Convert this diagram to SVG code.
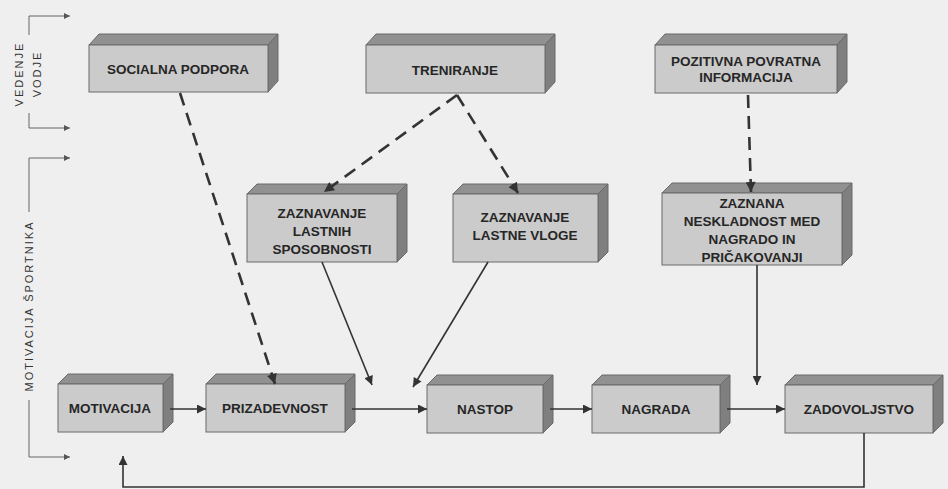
<svg xmlns="http://www.w3.org/2000/svg" width="948" height="489" viewBox="0 0 948 489">
<defs>
<style>
.front{fill:#cbcbcb;stroke:#6a6a6a;stroke-width:1}
.top{fill:#919191;stroke:#6a6a6a;stroke-width:1}
.side{fill:#7f7f7f;stroke:#6a6a6a;stroke-width:1}
.lbl{font-family:"Liberation Sans",Arial,sans-serif;font-weight:bold;font-size:13.5px;fill:#262626;text-anchor:middle}
.axis{font-family:"Liberation Sans",Arial,sans-serif;font-size:11px;fill:#333;text-anchor:middle;letter-spacing:2px}
.solid{fill:none;stroke:#333;stroke-width:1.6}
.dash{fill:none;stroke:#333;stroke-width:2.6;stroke-dasharray:13 8}
.thin{fill:none;stroke:#666;stroke-width:1}
</style>
<marker id="ah" viewBox="0 0 10 10" refX="10" refY="5" markerWidth="11" markerHeight="9" markerUnits="userSpaceOnUse" orient="auto"><path d="M0,0 L10,5 L0,10 z" fill="#333"/></marker>
<marker id="ahd" viewBox="0 0 10 10" refX="10" refY="5" markerWidth="12" markerHeight="10" markerUnits="userSpaceOnUse" orient="auto"><path d="M0,0 L10,5 L0,10 z" fill="#333"/></marker>
<marker id="ahs" viewBox="0 0 10 10" refX="10" refY="5" markerWidth="8" markerHeight="6" markerUnits="userSpaceOnUse" orient="auto"><path d="M0,0 L10,5 L0,10 z" fill="#555"/></marker>
</defs>
<rect width="948" height="489" fill="#efefef"/>

<g id="axis-vedenje">
<path class="thin" d="M29,35 V16 H70" marker-end="url(#ahs)"/>
<path class="thin" d="M29,113 V128 H70" marker-end="url(#ahs)"/>
<text class="axis" transform="translate(19,74) rotate(-90)" dominant-baseline="central">VEDENJE</text>
<text class="axis" transform="translate(37,74) rotate(-90)" dominant-baseline="central">VODJE</text>
</g>
<g id="axis-motivacija">
<path class="thin" d="M29,212 V158 H70" marker-end="url(#ahs)"/>
<path class="thin" d="M29,400 V457 H70" marker-end="url(#ahs)"/>
<text class="axis" transform="translate(29,306) rotate(-90)" dominant-baseline="central">MOTIVACIJA ŠPORTNIKA</text>
</g>

<g id="socialna-podpora">
<polygon class="top" points="89,45 99,34 278,34 268,45"/>
<polygon class="side" points="268,45 278,34 278,81 268,92"/>
<rect class="front" x="89" y="45" width="179" height="47"/>
<text class="lbl" x="178" y="74">SOCIALNA PODPORA</text>
</g>
<g id="treniranje">
<polygon class="top" points="366,45 376,34 555,34 545,45"/>
<polygon class="side" points="545,45 555,34 555,82 545,93"/>
<rect class="front" x="366" y="45" width="179" height="48"/>
<text class="lbl" x="455" y="75">TRENIRANJE</text>
</g>
<g id="pozitivna">
<polygon class="top" points="655,45 665,34 847,34 837,45"/>
<polygon class="side" points="837,45 847,34 847,82 837,93"/>
<rect class="front" x="655" y="45" width="182" height="48"/>
<text class="lbl" x="746" y="66">POZITIVNA POVRATNA</text>
<text class="lbl" x="746" y="82">INFORMACIJA</text>
</g>
<g id="zaznavanje-sposobnosti">
<polygon class="top" points="247,194 257,184 407,184 397,194"/>
<polygon class="side" points="397,194 407,184 407,252 397,262"/>
<rect class="front" x="247" y="194" width="150" height="68"/>
<text class="lbl" x="322" y="218">ZAZNAVANJE</text>
<text class="lbl" x="322" y="236">LASTNIH</text>
<text class="lbl" x="322" y="254">SPOSOBNOSTI</text>
</g>
<g id="zaznavanje-vloge">
<polygon class="top" points="453,194 463,184 608,184 598,194"/>
<polygon class="side" points="598,194 608,184 608,252 598,262"/>
<rect class="front" x="453" y="194" width="145" height="68"/>
<text class="lbl" x="525" y="222">ZAZNAVANJE</text>
<text class="lbl" x="525" y="240">LASTNE VLOGE</text>
</g>
<g id="zaznana">
<polygon class="top" points="662,193 672,183 852,183 842,193"/>
<polygon class="side" points="842,193 852,183 852,255 842,265"/>
<rect class="front" x="662" y="193" width="180" height="72"/>
<text class="lbl" x="752" y="208">ZAZNANA</text>
<text class="lbl" x="752" y="226">NESKLADNOST MED</text>
<text class="lbl" x="752" y="244">NAGRADO IN</text>
<text class="lbl" x="752" y="262">PRIČAKOVANJI</text>
</g>
<g id="motivacija">
<polygon class="top" points="58,384 68,374 173,374 163,384"/>
<polygon class="side" points="163,384 173,374 173,422 163,432"/>
<rect class="front" x="58" y="384" width="105" height="48"/>
<text class="lbl" x="110" y="413">MOTIVACIJA</text>
</g>
<g id="prizadevnost">
<polygon class="top" points="206,384 216,374 355,374 345,384"/>
<polygon class="side" points="345,384 355,374 355,422 345,432"/>
<rect class="front" x="206" y="384" width="139" height="48"/>
<text class="lbl" x="275" y="413">PRIZADEVNOST</text>
</g>
<g id="nastop">
<polygon class="top" points="427,385 437,375 553,375 543,385"/>
<polygon class="side" points="543,385 553,375 553,423 543,433"/>
<rect class="front" x="427" y="385" width="116" height="48"/>
<text class="lbl" x="485" y="414">NASTOP</text>
</g>
<g id="nagrada">
<polygon class="top" points="592,385 602,375 730,375 720,385"/>
<polygon class="side" points="720,385 730,375 730,423 720,433"/>
<rect class="front" x="592" y="385" width="128" height="48"/>
<text class="lbl" x="656" y="414">NAGRADA</text>
</g>
<g id="zadovoljstvo">
<polygon class="top" points="785,385 795,375 943,375 933,385"/>
<polygon class="side" points="933,385 943,375 943,423 933,433"/>
<rect class="front" x="785" y="385" width="148" height="48"/>
<text class="lbl" x="859" y="414">ZADOVOLJSTVO</text>
</g>

<g id="connectors">
<path class="solid" d="M170,409 H206" marker-end="url(#ah)"/>
<path class="solid" d="M352,409 H427" marker-end="url(#ah)"/>
<path class="solid" d="M550,409 H592" marker-end="url(#ah)"/>
<path class="solid" d="M727,409 H785" marker-end="url(#ah)"/>
<path class="solid" d="M864,433 V487 H123 V456" marker-end="url(#ah)"/>
<path class="solid" d="M322,262 L372,385" marker-end="url(#ah)"/>
<path class="solid" d="M488,262 L413,387" marker-end="url(#ah)"/>
<path class="solid" d="M757,265 V385" marker-end="url(#ah)"/>
<path class="dash" d="M180,93 L275,384" marker-end="url(#ahd)"/>
<path class="dash" d="M457,95 L324,192" marker-end="url(#ahd)"/>
<path class="dash" d="M457,95 L518,193" marker-end="url(#ahd)"/>
<path class="dash" d="M748,95 L751,192" marker-end="url(#ahd)"/>
</g>
</svg>
